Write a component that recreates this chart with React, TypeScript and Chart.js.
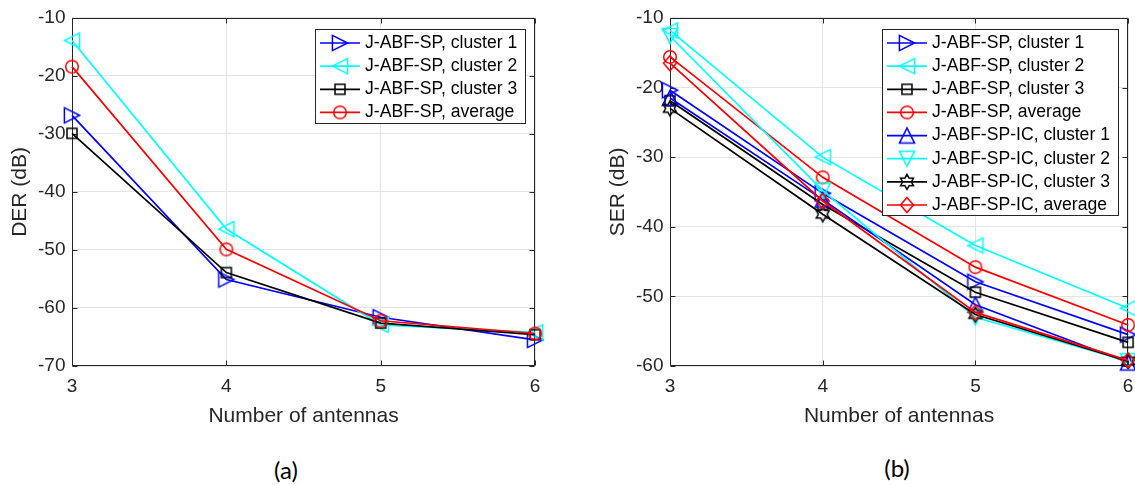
import React, { useEffect, useRef } from "react";
import { Chart, registerables } from "chart.js";

Chart.register(...registerables);

// ---------- data ----------
const antennaCounts = [3, 4, 5, 6];

// (a) DER (dB)
const derCluster1 = [-26.8, -55.1, -61.6, -65.5];
const derCluster2 = [-13.9, -46.4, -62.9, -64.2];
const derCluster3 = [-29.9, -53.9, -62.6, -64.6];
const derAverage = [-18.4, -49.9, -62.2, -64.4];

// (b) SER (dB)
const serCluster1 = [-20.4, -35.2, -47.9, -55.5];
const serCluster2 = [-11.8, -30.0, -42.7, -51.7];
const serCluster3 = [-21.9, -36.8, -49.4, -56.6];
const serAverage = [-15.6, -32.9, -45.8, -54.1];
const serIcCluster1 = [-21.5, -36.1, -51.2, -59.5];
const serIcCluster2 = [-12.6, -34.8, -53.0, -59.3];
const serIcCluster3 = [-23.0, -38.2, -52.6, -59.3];
const serIcAverage = [-16.5, -36.3, -52.3, -59.2];

const xTickValues = [3, 4, 5, 6];
const derTickValues = [-70, -60, -50, -40, -30, -20, -10];
const serTickValues = [-60, -50, -40, -30, -20, -10];

const derLabels = [
  "J-ABF-SP, cluster 1",
  "J-ABF-SP, cluster 2",
  "J-ABF-SP, cluster 3",
  "J-ABF-SP, average",
];
const serLabels = [
  "J-ABF-SP, cluster 1",
  "J-ABF-SP, cluster 2",
  "J-ABF-SP, cluster 3",
  "J-ABF-SP, average",
  "J-ABF-SP-IC, cluster 1",
  "J-ABF-SP-IC, cluster 2",
  "J-ABF-SP-IC, cluster 3",
  "J-ABF-SP-IC, average",
];

// ---------- styles ----------
const AXIS_COLOR = "#262626";
const GRID_COLOR = "#e4e4e4";
const FONT = '"Liberation Sans", Arial, Helvetica, sans-serif';
const TICK_SIZE = 19;
const TITLE_SIZE = 21;
const LEGEND_SIZE = 17.6;
const LINE_W = 1.7;

type Shape = "right" | "left" | "up" | "down" | "square" | "circle" | "diamond" | "hexagram";

function makeMarker(shape: Shape, color: string): HTMLCanvasElement {
  const s = 22;
  const c = document.createElement("canvas");
  c.width = s;
  c.height = s;
  const ctx = c.getContext("2d")!;
  const cx = s / 2;
  const cy = s / 2;
  const h = 7.6;
  ctx.strokeStyle = color;
  ctx.lineWidth = 1.5;
  ctx.lineJoin = "miter";
  ctx.beginPath();
  switch (shape) {
    case "right":
      ctx.moveTo(cx + h, cy);
      ctx.lineTo(cx - h, cy - h);
      ctx.lineTo(cx - h, cy + h);
      ctx.closePath();
      break;
    case "left":
      ctx.moveTo(cx - h, cy);
      ctx.lineTo(cx + h, cy - h);
      ctx.lineTo(cx + h, cy + h);
      ctx.closePath();
      break;
    case "up":
      ctx.moveTo(cx, cy - h);
      ctx.lineTo(cx + h, cy + h);
      ctx.lineTo(cx - h, cy + h);
      ctx.closePath();
      break;
    case "down":
      ctx.moveTo(cx, cy + h);
      ctx.lineTo(cx + h, cy - h);
      ctx.lineTo(cx - h, cy - h);
      ctx.closePath();
      break;
    case "square":
      ctx.rect(cx - 5, cy - 5, 10, 10);
      break;
    case "circle":
      ctx.arc(cx, cy, 6.3, 0, Math.PI * 2);
      break;
    case "diamond":
      ctx.moveTo(cx, cy - 7.5);
      ctx.lineTo(cx + 6.5, cy);
      ctx.lineTo(cx, cy + 7.5);
      ctx.lineTo(cx - 6.5, cy);
      ctx.closePath();
      break;
    case "hexagram": {
      const R = 7.5;
      const r = R / Math.sqrt(3);
      for (let k = 0; k < 12; k++) {
        const ang = -Math.PI / 2 + (k * Math.PI) / 6;
        const rad = k % 2 === 0 ? R : r;
        const px = cx + rad * Math.cos(ang);
        const py = cy + rad * Math.sin(ang);
        if (k === 0) ctx.moveTo(px, py);
        else ctx.lineTo(px, py);
      }
      ctx.closePath();
      break;
    }
  }
  ctx.stroke();
  return c;
}

type Series = { label: string; values: number[]; color: string; shape: Shape };

const matlabPlugin = {
  id: "matlabAxes",
  beforeDatasetsDraw(chart: any) {
    const opts = chart.options.plugins.matlabAxes;
    if (!opts) return;
    const { ctx, chartArea: a, scales } = chart;
    const L = Math.round(a.left) + 0.5;
    const R = Math.round(a.right) - 0.5;
    const T = Math.round(a.top) + 0.5;
    const B = Math.round(a.bottom) - 0.5;
    ctx.save();
    ctx.strokeStyle = AXIS_COLOR;
    ctx.lineWidth = 1;
    ctx.beginPath();
    ctx.rect(L, T, R - L, B - T);
    const tl = 5;
    for (const v of opts.xTicks) {
      const x = Math.round(scales.x.getPixelForValue(v)) + 0.5;
      ctx.moveTo(x, B);
      ctx.lineTo(x, B - tl);
      ctx.moveTo(x, T);
      ctx.lineTo(x, T + tl);
    }
    for (const v of opts.yTicks) {
      const y = Math.round(scales.y.getPixelForValue(v)) + 0.5;
      ctx.moveTo(L, y);
      ctx.lineTo(L + tl, y);
      ctx.moveTo(R, y);
      ctx.lineTo(R - tl, y);
    }
    ctx.stroke();
    ctx.restore();
  },
  afterDraw(chart: any) {
    const opts = chart.options.plugins.matlabAxes;
    if (!opts) return;
    const items: { label: string; color: string; marker: HTMLCanvasElement }[] = opts.legend;
    const { ctx, chartArea: a } = chart;
    ctx.save();
    ctx.font = `${LEGEND_SIZE}px ${FONT}`;
    let maxW = 0;
    for (const it of items) maxW = Math.max(maxW, ctx.measureText(it.label).width);
    const rowH = 23.14;
    const boxW = Math.round(50 + maxW + 8);
    const boxH = Math.round(14 + (items.length - 1) * rowH + 10.5);
    const boxRight = Math.round(a.right - 10.5);
    const boxLeft = boxRight - boxW;
    const boxTop = Math.round(a.top + 11);
    ctx.fillStyle = "#ffffff";
    ctx.fillRect(boxLeft, boxTop, boxW, boxH);
    ctx.strokeStyle = AXIS_COLOR;
    ctx.lineWidth = 1;
    ctx.strokeRect(boxLeft + 0.5, boxTop + 0.5, boxW, boxH);
    items.forEach((it, i) => {
      const y = boxTop + 14 + i * rowH;
      ctx.strokeStyle = it.color;
      ctx.lineWidth = LINE_W;
      ctx.beginPath();
      ctx.moveTo(boxLeft + 5, y);
      ctx.lineTo(boxLeft + 45, y);
      ctx.stroke();
      ctx.drawImage(it.marker, boxLeft + 25 - it.marker.width / 2, y - it.marker.height / 2);
      ctx.fillStyle = "#000000";
      ctx.textBaseline = "middle";
      ctx.textAlign = "left";
      ctx.fillText(it.label, boxLeft + 50, y);
    });
    ctx.restore();
  },
};

function buildConfig(
  series: Series[],
  yMin: number,
  yMax: number,
  yTicks: number[],
  yTitle: string,
  padRight: number
): any {
  const markers = series.map((s) => makeMarker(s.shape, s.color));
  const n = series.length;
  return {
    type: "line",
    data: {
      datasets: series.map((s, i) => ({
        label: s.label,
        data: s.values.map((v, k) => ({ x: antennaCounts[k], y: v })),
        borderColor: s.color,
        backgroundColor: "transparent",
        borderWidth: LINE_W,
        pointStyle: markers[i],
        pointRadius: 7,
        pointHoverRadius: 7,
        fill: false,
        tension: 0,
        clip: false,
        order: n - i,
      })),
    },
    options: {
      animation: false,
      responsive: false,
      devicePixelRatio: 1,
      events: [],
      layout: { padding: { top: 14, right: padRight, left: 0, bottom: 0 } },
      plugins: {
        legend: { display: false },
        tooltip: { enabled: false },
        matlabAxes: {
          xTicks: xTickValues,
          yTicks: yTicks,
          legend: series.map((s, i) => ({ label: s.label, color: s.color, marker: markers[i] })),
        },
      },
      scales: {
        x: {
          type: "linear",
          min: xTickValues[0],
          max: xTickValues[xTickValues.length - 1],
          afterBuildTicks: (sc: any) => {
            sc.ticks = xTickValues.map((v) => ({ value: v }));
          },
          afterFit: (sc: any) => {
            sc.height = 74;
          },
          grid: { color: GRID_COLOR, lineWidth: 1, drawTicks: false },
          border: { display: false },
          ticks: {
            color: AXIS_COLOR,
            font: { family: FONT, size: TICK_SIZE },
            padding: 9.6,
            maxRotation: 0,
            autoSkip: false,
          },
          title: {
            display: true,
            text: "Number of antennas",
            color: AXIS_COLOR,
            font: { family: FONT, size: TITLE_SIZE },
            padding: { top: 0, bottom: 11.4 },
          },
        },
        y: {
          type: "linear",
          min: yMin,
          max: yMax,
          afterBuildTicks: (sc: any) => {
            sc.ticks = yTicks.map((v) => ({ value: v }));
          },
          afterFit: (sc: any) => {
            sc.width = 72;
          },
          grid: { color: GRID_COLOR, lineWidth: 1, drawTicks: false },
          border: { display: false },
          ticks: {
            color: AXIS_COLOR,
            font: { family: FONT, size: TICK_SIZE },
            padding: 6.5,
            autoSkip: false,
          },
          title: {
            display: true,
            text: yTitle,
            color: AXIS_COLOR,
            font: { family: FONT, size: TITLE_SIZE },
            padding: { top: 7.3, bottom: 0 },
          },
        },
      },
    },
    plugins: [matlabPlugin],
  };
}

const derSeries: Series[] = [
  { label: derLabels[0], values: derCluster1, color: "#0000ff", shape: "right" },
  { label: derLabels[1], values: derCluster2, color: "#00ffff", shape: "left" },
  { label: derLabels[2], values: derCluster3, color: "#000000", shape: "square" },
  { label: derLabels[3], values: derAverage, color: "#ff0000", shape: "circle" },
];

const serSeries: Series[] = [
  { label: serLabels[0], values: serCluster1, color: "#0000ff", shape: "right" },
  { label: serLabels[1], values: serCluster2, color: "#00ffff", shape: "left" },
  { label: serLabels[2], values: serCluster3, color: "#000000", shape: "square" },
  { label: serLabels[3], values: serAverage, color: "#ff0000", shape: "circle" },
  { label: serLabels[4], values: serIcCluster1, color: "#0000ff", shape: "up" },
  { label: serLabels[5], values: serIcCluster2, color: "#00ffff", shape: "down" },
  { label: serLabels[6], values: serIcCluster3, color: "#000000", shape: "hexagram" },
  { label: serLabels[7], values: serIcAverage, color: "#ff0000", shape: "diamond" },
];

export default function App() {
  const leftRef = useRef<HTMLCanvasElement | null>(null);
  const rightRef = useRef<HTMLCanvasElement | null>(null);

  useEffect(() => {
    const left = new Chart(
      leftRef.current!,
      buildConfig(derSeries, -70, -10, derTickValues, "DER (dB)", 13)
    );
    const right = new Chart(
      rightRef.current!,
      buildConfig(serSeries, -60, -10, serTickValues, "SER (dB)", 11)
    );
    return () => {
      left.destroy();
      right.destroy();
    };
  }, []);

  const capStyle: React.CSSProperties = {
    position: "absolute",
    transform: "translate(-50%, -50%)",
    fontFamily: 'Lato, "Open Sans", sans-serif',
    fontSize: 24,
    lineHeight: 1,
    color: "#000",
    whiteSpace: "nowrap",
  };

  return (
    <div
      style={{
        position: "absolute",
        left: 0,
        top: 0,
        width: 1135,
        height: 485,
        overflow: "hidden",
        background: "#ffffff",
      }}
    >
      <canvas
        ref={leftRef}
        width={550}
        height={440}
        style={{ position: "absolute", left: 0, top: 0, width: 550, height: 440 }}
      />
      <canvas
        ref={rightRef}
        width={545}
        height={440}
        style={{ position: "absolute", left: 598, top: 0, width: 545, height: 440 }}
      />
      <div style={{ ...capStyle, left: 286, top: 470 }}>(a)</div>
      <div style={{ ...capStyle, left: 897, top: 468 }}>(b)</div>
    </div>
  );
}
